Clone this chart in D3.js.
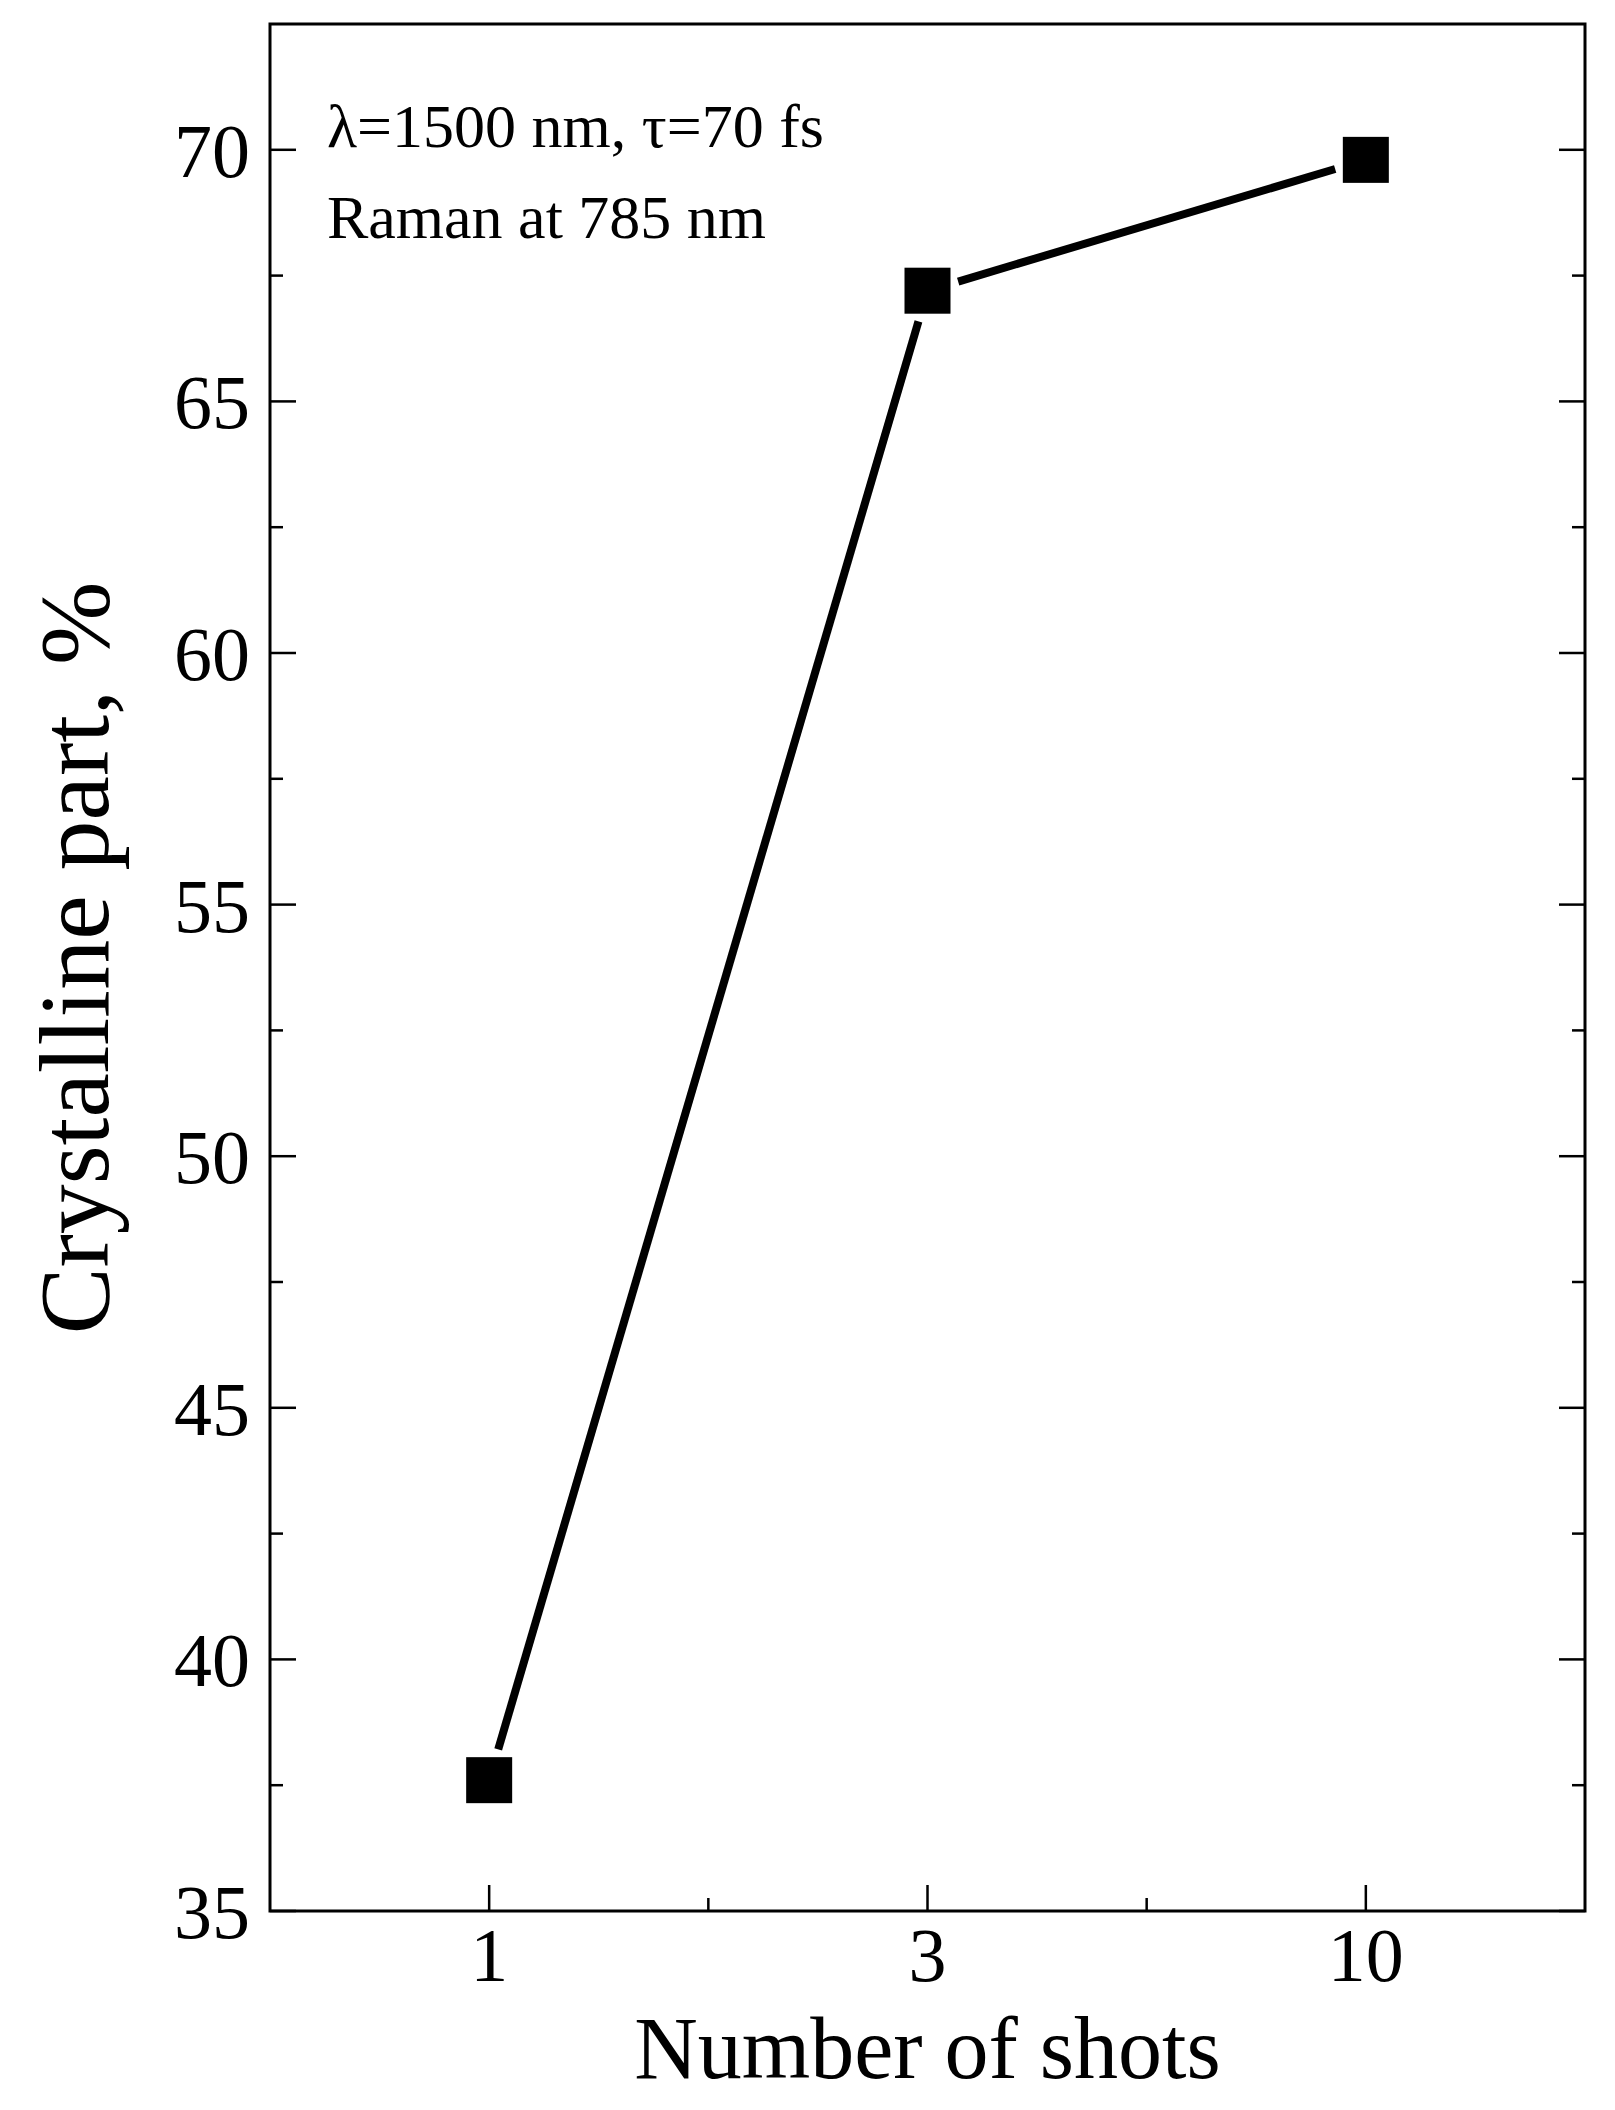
<!DOCTYPE html><html><head><meta charset="utf-8">
<script src="https://cdn.jsdelivr.net/npm/d3@7"></script>
<style>body{margin:0;background:#fff}</style></head><body>
<script>
const categories=["1","3","10"];
const values=[37.6,67.2,69.8];
const yTicks=[35,40,45,50,55,60,65,70];
const W=1615,H=2110,L=270,R=1585,T=24,B=1911;
const svg=d3.select("body").append("svg").attr("width",W).attr("height",H).style("font-family","'Liberation Serif',serif");
const x=d3.scaleLinear().domain([-0.5,2.5]).range([L,R]);
const y=d3.scaleLinear().domain([35,72.5]).range([B,T]);
svg.append("rect").attr("x",L).attr("y",T).attr("width",R-L).attr("height",B-T).attr("fill","none").attr("stroke","#000").attr("stroke-width",3);
const minorY=d3.range(37.5,72.5,5);
const g=svg.append("g").attr("stroke","#000").attr("stroke-width",2.5);
yTicks.forEach(v=>{g.append("line").attr("x1",L).attr("x2",L+26).attr("y1",y(v)).attr("y2",y(v));g.append("line").attr("x1",R).attr("x2",R-26).attr("y1",y(v)).attr("y2",y(v));});
minorY.forEach(v=>{g.append("line").attr("x1",L).attr("x2",L+13).attr("y1",y(v)).attr("y2",y(v));g.append("line").attr("x1",R).attr("x2",R-13).attr("y1",y(v)).attr("y2",y(v));});
categories.forEach((c,i)=>g.append("line").attr("x1",x(i)).attr("x2",x(i)).attr("y1",B).attr("y2",B-26));
[0.5,1.5].forEach(i=>g.append("line").attr("x1",x(i)).attr("x2",x(i)).attr("y1",B).attr("y2",B-13));
yTicks.forEach(v=>svg.append("text").attr("x",L-20).attr("y",y(v)+27).attr("text-anchor","end").attr("font-size",76).text(v));
categories.forEach((c,i)=>svg.append("text").attr("x",x(i)).attr("y",B+70).attr("text-anchor","middle").attr("font-size",76).text(c));
svg.append("text").attr("x",(L+R)/2).attr("y",2078).attr("text-anchor","middle").attr("font-size",88).text("Number of shots");
svg.append("text").attr("transform",`translate(108,958) rotate(-90)`).attr("text-anchor","middle").attr("font-size",100).text("Crystalline part, %");
svg.append("text").attr("x",327).attr("y",147).attr("font-size",62).text("λ=1500 nm, τ=70 fs");
svg.append("text").attr("x",327).attr("y",238).attr("font-size",62).text("Raman at 785 nm");
const pts=values.map((v,i)=>[x(i),y(v)]);
const gap=32;
for(let i=0;i<pts.length-1;i++){const [x1,y1]=pts[i],[x2,y2]=pts[i+1];const d=Math.hypot(x2-x1,y2-y1),ux=(x2-x1)/d,uy=(y2-y1)/d;
svg.append("line").attr("x1",x1+ux*gap).attr("y1",y1+uy*gap).attr("x2",x2-ux*gap).attr("y2",y2-uy*gap).attr("stroke","#000").attr("stroke-width",8);}
svg.selectAll(".m").data(values).enter().append("rect").attr("x",(d,i)=>x(i)-23).attr("y",d=>y(d)-23).attr("width",46).attr("height",46).attr("fill","#000");
</script></body></html>
